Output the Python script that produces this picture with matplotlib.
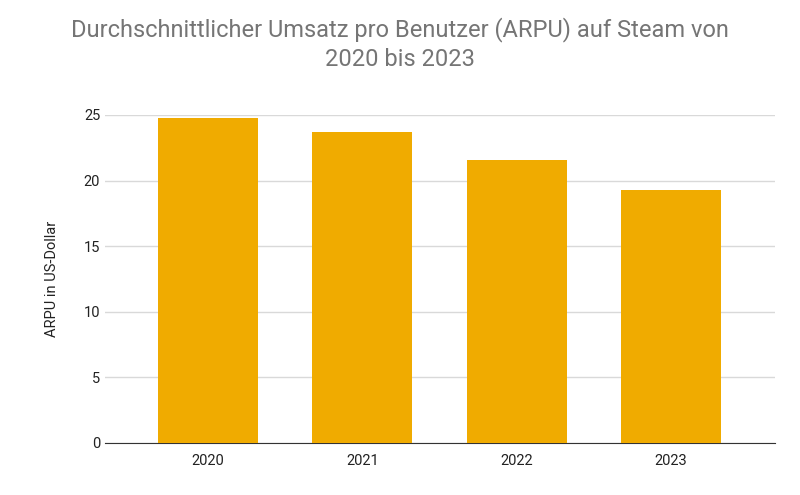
import matplotlib
matplotlib.use("Agg")
import matplotlib.pyplot as plt

years = ["2020", "2021", "2022", "2023"]
arpu = [24.8, 23.7, 21.6, 19.3]
yticks = [0, 5, 10, 15, 20, 25]

plt.rcParams['font.family'] = ['Roboto', 'DejaVu Sans']
fig = plt.figure(figsize=(8, 4.95), dpi=100)
ax = fig.add_axes([105/800, 1-443/495, 670/800, 328/495])
ax.bar(range(len(years)), arpu, width=0.648, color="#F0AB00", zorder=3)
ax.set_xlim(-0.668, 3.674)
ax.set_ylim(0, 25)
ax.set_yticks(yticks)
ax.set_xticks(range(len(years)))
ax.set_xticklabels(years)
ax.grid(axis='y', color='#d9d9d9', linewidth=1, zorder=0)
for s in ['top', 'right', 'left']:
    ax.spines[s].set_visible(False)
ax.spines['bottom'].set_color('#333333')
ax.tick_params(length=0, labelsize=10.5, colors='#222222')
ax.tick_params(axis='x', pad=8)
ax.set_ylabel("ARPU in US-Dollar", fontsize=10.5, color='#222222', labelpad=18)
fig.suptitle("Durchschnittlicher Umsatz pro Benutzer (ARPU) auf Steam von\n2020 bis 2023",
             y=0.965, fontsize=17, color='#757575', linespacing=1.3)
fig.savefig("out.png", dpi=100, facecolor='white')
